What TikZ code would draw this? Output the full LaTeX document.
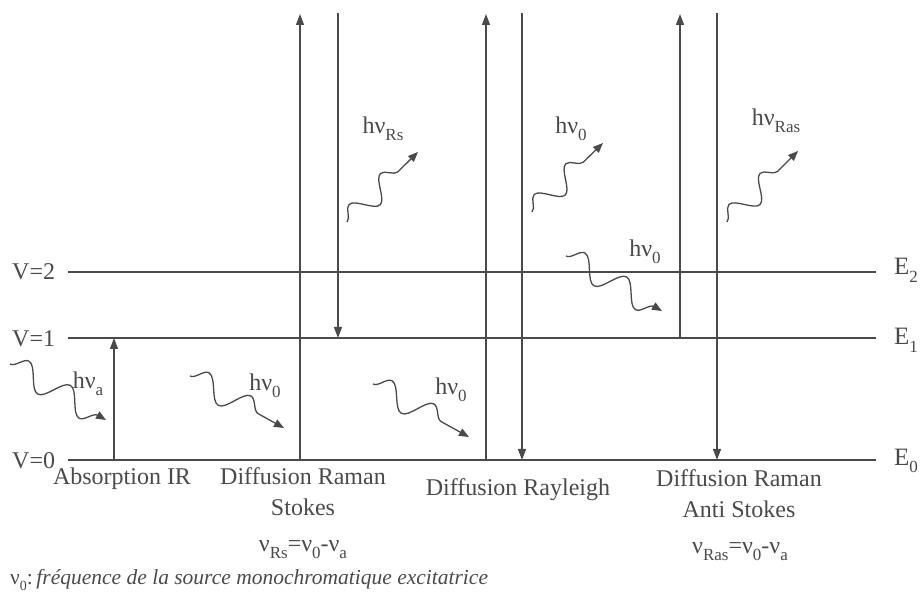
\documentclass[tikz,border=0pt]{standalone}
\usepackage{fontspec}
\setmainfont{Liberation Serif}
\usetikzlibrary{arrows.meta,decorations.pathmorphing}
\definecolor{ink}{HTML}{4A4A4A}
\newcommand\lowsub[1]{\raisebox{-0.3em}{\fontsize{17}{17}\selectfont #1}}
\begin{document}
\begin{tikzpicture}[x=1pt,y=-1pt,
  level/.style={draw=ink, line width=1.4pt},
  trans/.style={draw=ink, line width=1.4pt, -{Triangle[length=11pt,width=8pt]}},
  wave/.style={draw=ink, line width=1.3pt, -{Triangle[length=10pt,width=8pt]}, decorate, decoration={snake, amplitude=12pt, segment length=48pt, post length=8pt}},
  waveout/.style={wave, decoration={snake, amplitude=11pt, segment length=44pt, post length=8pt}},
  lab/.style={text=ink, font=\fontsize{24}{30}\selectfont, inner sep=0pt, align=center},
  elab/.style={text=ink, font=\fontsize{25}{30}\selectfont, inner sep=0pt, anchor=base west},
  foot/.style={text=ink, font=\fontsize{21.5}{25}\selectfont, inner sep=0pt, anchor=base west},
]
\useasboundingbox (0,0) rectangle (924,593);
% levels
\coordinate (L2a) at (68,272); \coordinate (L2b) at (876,272);
\coordinate (L1a) at (68,338); \coordinate (L1b) at (876,338);
\coordinate (L0a) at (68,460); \coordinate (L0b) at (876,460);
\draw[level] (L2a) -- (L2b);
\draw[level] (L1a) -- (L1b);
\draw[level] (L0a) -- (L0b);
\node[lab, anchor=base west] (v2) at (12,280) {V=2};
\node[lab, anchor=base west] (v1) at (12,347) {V=1};
\node[lab, anchor=base west] (v0) at (12,468) {V=0};
\node[elab] (e2) at (894,275) {E\lowsub{2}};
\node[elab] (e1) at (894,345) {E\lowsub{1}};
\node[elab] (e0) at (894,465) {E\lowsub{0}};
% vertical transitions
\coordinate (a0) at (114,460); \coordinate (a1) at (114,338);
\coordinate (s0) at (300,460); \coordinate (s1) at (300,14);
\coordinate (s2) at (338,13);  \coordinate (s3) at (338,338);
\coordinate (r0) at (486,460); \coordinate (r1) at (486,14);
\coordinate (r2) at (522,13);  \coordinate (r3) at (522,460);
\coordinate (t0) at (680,338); \coordinate (t1) at (680,14);
\coordinate (t2) at (717,13);  \coordinate (t3) at (717,460);
\draw[trans] (a0) -- (a1);
\draw[trans] (s0) -- (s1);
\draw[trans] (s2) -- (s3);
\draw[trans] (r0) -- (r1);
\draw[trans] (r2) -- (r3);
\draw[trans] (t0) -- (t1);
\draw[trans] (t2) -- (t3);
% incoming photons
\coordinate (wa0) at (10,364);  \coordinate (wa1) at (106,420);
\coordinate (ws0) at (190,376); \coordinate (ws1) at (284,428);
\coordinate (wr0) at (373,384); \coordinate (wr1) at (469,437);
\coordinate (wt0) at (566,256); \coordinate (wt1) at (662,311);
\draw[wave] (wa0) -- (wa1);
\draw[wave] (ws0) -- (ws1);
\draw[wave] (wr0) -- (wr1);
\draw[wave] (wt0) -- (wt1);
% outgoing photons
\coordinate (os0) at (347,222); \coordinate (os1) at (418,152);
\coordinate (or0) at (532,212); \coordinate (or1) at (603,143);
\coordinate (ot0) at (727,222); \coordinate (ot1) at (798,151);
\draw[waveout] (os0) -- (os1);
\draw[waveout] (or0) -- (or1);
\draw[waveout] (ot0) -- (ot1);
% photon labels
\node[lab] (ha) at (88,384) {hν\lowsub{a}};
\node[lab] (hs) at (265,386) {hν\lowsub{0}};
\node[lab] (hr) at (451,390) {hν\lowsub{0}};
\node[lab] (ht) at (645,252) {hν\lowsub{0}};
\node[lab] (hrs) at (383,129) {hν\lowsub{Rs}};
\node[lab] (hr0) at (571,129) {hν\lowsub{0}};
\node[lab] (hras) at (776,121) {hν\lowsub{Ras}};
% process labels
\node[lab, anchor=base] (absIR) at (122,484) {Absorption IR};
\node[lab, anchor=base] (stokes1) at (303,485) {Diffusion Raman};
\node[lab, anchor=base] (stokes2) at (303,515) {Stokes};
\node[lab, anchor=base] (rayl) at (518,496) {Diffusion Rayleigh};
\node[lab, anchor=base] (astokes1) at (739,486) {Diffusion Raman};
\node[lab, anchor=base] (astokes2) at (739,517) {Anti Stokes};
\node[lab, anchor=base] (fs) at (303,551) {ν\lowsub{Rs}=ν\lowsub{0}-ν\lowsub{a}};
\node[lab, anchor=base] (fas) at (740,553) {ν\lowsub{Ras}=ν\lowsub{0}-ν\lowsub{a}};
\node[foot] (note) at (10,584) {ν\raisebox{-0.3em}{\fontsize{14}{14}\selectfont 0}:\,\textit{fréquence de la source monochromatique excitatrice}};
\end{tikzpicture}
\end{document}
